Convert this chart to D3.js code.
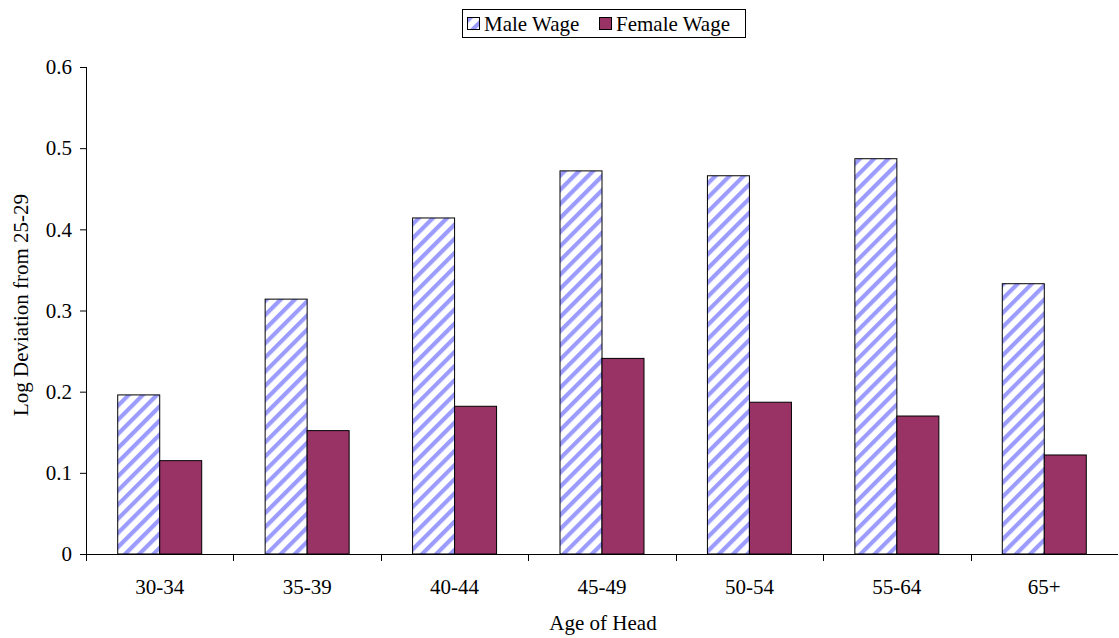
<!DOCTYPE html>
<html lang="en">
<head>
<meta charset="UTF-8">
<title>Log Deviation by Age of Head</title>
<style>
  body { margin: 0; background: #fff; }
  svg text { font-family: "Liberation Serif", "Times New Roman", serif; fill: #000; }
</style>
</head>
<body>
<svg id="chart" width="1119" height="638"></svg>
<script src="https://d3js.org/d3.v7.min.js"></script>
<script>
  // data
  var ageGroups = ["30-34", "35-39", "40-44", "45-49", "50-54", "55-64", "65+"];
  var maleWage = [0.196, 0.314, 0.414, 0.472, 0.466, 0.487, 0.333];
  var femaleWage = [0.115, 0.152, 0.182, 0.241, 0.187, 0.170, 0.122];
  var yTicks = [0, 0.1, 0.2, 0.3, 0.4, 0.5, 0.6];
  var seriesNames = ["Male Wage", "Female Wage"];

  var svg = d3.select("#chart"),
      margin = { left: 86, right: 1, top: 67, bottom: 84 },
      width = +svg.attr("width") - margin.left - margin.right,
      height = +svg.attr("height") - margin.top - margin.bottom,
      fs = "21px";

  // diagonal stripe fill for the male bars
  var defs = svg.append("defs");
  var pat = defs.append("pattern")
      .attr("id", "stripes")
      .attr("patternUnits", "userSpaceOnUse")
      .attr("width", 10).attr("height", 10)
      .attr("patternTransform", "rotate(45)");
  pat.append("rect").attr("width", 10).attr("height", 10).attr("fill", "#fff");
  pat.append("rect").attr("x", 0).attr("width", 4.2).attr("height", 10).attr("fill", "#9c9cff");

  var g = svg.append("g").attr("transform", "translate(" + margin.left + "," + margin.top + ")");

  var x = d3.scaleBand().domain(ageGroups).range([0, width]).padding(0);
  var y = d3.scaleLinear().domain([0, 0.6]).range([height, 0]);
  var barW = 42;

  // male bars
  g.selectAll(".male").data(maleWage).enter().append("rect")
      .attr("x", function (d, i) { return x(ageGroups[i]) + x.bandwidth() / 2 - barW; })
      .attr("y", function (d) { return y(d); })
      .attr("width", barW)
      .attr("height", function (d) { return height - y(d); })
      .attr("fill", "url(#stripes)")
      .attr("stroke", "#000").attr("stroke-width", 1);

  // female bars
  g.selectAll(".female").data(femaleWage).enter().append("rect")
      .attr("x", function (d, i) { return x(ageGroups[i]) + x.bandwidth() / 2; })
      .attr("y", function (d) { return y(d); })
      .attr("width", barW)
      .attr("height", function (d) { return height - y(d); })
      .attr("fill", "#993366")
      .attr("stroke", "#000").attr("stroke-width", 1);

  // y axis
  var yAxis = g.append("g")
      .call(d3.axisLeft(y).tickValues(yTicks).tickSize(6).tickPadding(8)
        .tickFormat(function (d) { return d === 0 ? "0" : d3.format(".1f")(d); }));
  yAxis.attr("font-family", null);
  yAxis.selectAll("text").style("font-size", fs);
  yAxis.select(".domain").attr("d", "M0.5," + y(0.6) + "V" + height);

  // x axis, ticks at category boundaries
  var xAxis = g.append("g").attr("transform", "translate(0," + height + ")");
  xAxis.append("line").attr("x1", 0).attr("x2", width).attr("y1", 0.5).attr("y2", 0.5)
      .attr("stroke", "#000");
  xAxis.selectAll(".tk").data(ageGroups).enter().append("line")
      .attr("x1", function (d) { return Math.round(x(d)) + 0.5; })
      .attr("x2", function (d) { return Math.round(x(d)) + 0.5; })
      .attr("y1", 0).attr("y2", 7).attr("stroke", "#000");
  xAxis.selectAll(".lbl").data(ageGroups).enter().append("text")
      .attr("x", function (d) { return x(d) + x.bandwidth() / 2; })
      .attr("y", 40)
      .attr("text-anchor", "middle")
      .style("font-size", fs)
      .text(function (d) { return d; });

  // axis titles
  svg.append("text")
      .attr("x", 603).attr("y", 630)
      .attr("text-anchor", "middle").style("font-size", fs)
      .text("Age of Head");
  svg.append("text")
      .attr("transform", "translate(28,305) rotate(-90)")
      .attr("text-anchor", "middle").style("font-size", fs)
      .text("Log Deviation from 25-29");

  // legend
  var lg = svg.append("g").attr("transform", "translate(462,9)");
  lg.append("rect").attr("x", 0.5).attr("y", 0.5).attr("width", 283).attr("height", 28)
      .attr("fill", "#fff").attr("stroke", "#000");
  var fills = ["url(#stripes)", "#993366"];
  var offs = [5, 137];
  seriesNames.forEach(function (name, i) {
    lg.append("rect").attr("x", offs[i] + 0.5).attr("y", 8.5).attr("width", 12).attr("height", 12)
        .attr("fill", fills[i]).attr("stroke", "#000");
    lg.append("text").attr("x", offs[i] + 17).attr("y", 22)
        .style("font-size", fs).text(name);
  });
</script>
</body>
</html>
